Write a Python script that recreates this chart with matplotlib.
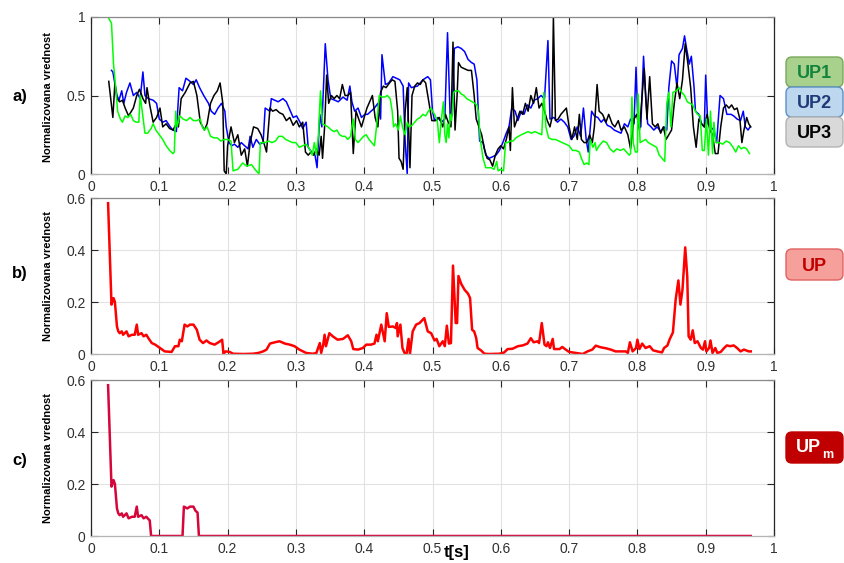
import matplotlib
matplotlib.use("Agg")
import matplotlib.pyplot as plt
from matplotlib.patches import FancyBboxPatch
from matplotlib.transforms import IdentityTransform

plt.rcParams['font.family'] = ['Liberation Sans', 'DejaVu Sans']

# ---- data ----
t_up1 = [.025, .030, .033, .036, .039, .043, .046, .050, .054, .058,
         .062, .066, .070, .072, .075, .079, .083, .088, .091, .095,
         .100, .105, .110, .115, .120, .122, .124, .126, .130, .135,
         .140, .145, .150, .155, .160, .163, .166, .170, .175, .180,
         .185, .190, .195, .200, .205, .208, .215, .222, .228, .235,
         .240, .246, .248, .255, .260, .265, .270, .275, .280, .285,
         .290, .295, .300, .305, .310, .315, .320, .324, .327, .330,
         .333, .336, .339, .343, .347, .352, .356, .360, .364, .368,
         .372, .376, .380, .384, .387, .391, .395, .399, .403, .407,
         .411, .415, .418, .422, .426, .430, .434, .438, .441, .443,
         .446, .450, .453, .456, .460, .463, .466, .470, .474, .478,
         .482, .486, .490, .494, .498, .500, .503, .507, .510, .513,
         .516, .518, .520, .522, .524, .526, .528, .531, .534, .538,
         .542, .546, .550, .554, .558, .562, .565, .567, .570, .574,
         .578, .582, .586, .590, .594, .596, .600, .604, .607, .610,
         .614, .618, .622, .626, .630, .635, .640, .645, .650, .655,
         .660, .663, .666, .670, .675, .680, .685, .690, .695, .700,
         .705, .710, .715, .718, .722, .726, .729, .731, .735, .738,
         .740, .744, .750, .755, .760, .765, .770, .775, .780, .784,
         .788, .790, .792, .794, .797, .800, .801, .804, .808, .812,
         .816, .820, .824, .828, .832, .836, .840, .843, .846, .849,
         .852, .857, .861, .865, .869, .873, .877, .881, .885, .888,
         .892, .895, .898, .901, .904, .907, .910, .912, .915, .920,
         .925, .930, .935, .940, .944, .948, .952, .956, .960, .964]
up1 = [1.00, 0.96, 0.70, 0.56, 0.40, 0.35, 0.33, 0.37, 0.36, 0.38,
       0.34, 0.33, 0.33, 0.50, 0.40, 0.26, 0.26, 0.29, 0.32, 0.28,
       0.25, 0.22, 0.18, 0.15, 0.13, 0.14, 0.40, 0.30, 0.37, 0.35,
       0.34, 0.36, 0.34, 0.34, 0.35, 0.30, 0.28, 0.30, 0.24, 0.23,
       0.23, 0.21, 0.22, 0.22, 0.21, 0.02, 0.03, 0.07, 0.05, 0.06,
       0.03, 0.00, 0.20, 0.20, 0.21, 0.20, 0.21, 0.24, 0.24, 0.22,
       0.21, 0.20, 0.20, 0.17, 0.18, 0.19, 0.16, 0.12, 0.20, 0.12,
       0.25, 0.53, 0.32, 0.31, 0.30, 0.28, 0.27, 0.28, 0.25, 0.24,
       0.24, 0.22, 0.24, 0.35, 0.22, 0.20, 0.22, 0.24, 0.25, 0.22,
       0.20, 0.18, 0.30, 0.50, 0.49, 0.49, 0.50, 0.48, 0.40, 0.30,
       0.32, 0.28, 0.37, 0.30, 0.25, 0.33, 0.30, 0.31, 0.33, 0.35,
       0.36, 0.38, 0.37, 0.40, 0.42, 0.40, 0.38, 0.34, 0.20, 0.35,
       0.46, 0.25, 0.20, 0.32, 0.23, 0.38, 0.34, 0.52, 0.53, 0.53,
       0.51, 0.50, 0.48, 0.47, 0.46, 0.45, 0.44, 0.40, 0.22, 0.10,
       0.04, 0.04, 0.04, 0.03, 0.08, 0.02, 0.03, 0.02, 0.20, 0.20,
       0.21, 0.21, 0.23, 0.24, 0.25, 0.26, 0.27, 0.26, 0.27, 0.26,
       0.25, 0.52, 0.30, 0.23, 0.22, 0.22, 0.21, 0.20, 0.19, 0.18,
       0.15, 0.15, 0.14, 0.10, 0.06, 0.07, 0.06, 0.22, 0.17, 0.20,
       0.15, 0.18, 0.21, 0.20, 0.16, 0.14, 0.16, 0.15, 0.16, 0.14,
       0.12, 0.13, 0.49, 0.20, 0.14, 0.14, 0.51, 0.20, 0.21, 0.22,
       0.20, 0.19, 0.18, 0.17, 0.12, 0.10, 0.08, 0.45, 0.52, 0.30,
       0.52, 0.53, 0.55, 0.52, 0.50, 0.46, 0.45, 0.44, 0.40, 0.38,
       0.37, 0.15, 0.15, 0.35, 0.12, 0.40, 0.13, 0.33, 0.20, 0.20,
       0.19, 0.21, 0.20, 0.17, 0.14, 0.18, 0.16, 0.17, 0.16, 0.13]

t_up2 = [.030, .032, .038, .041, .045, .048, .052, .057, .062, .067,
         .072, .076, .079, .084, .091, .096, .100, .105, .110, .116,
         .120, .125, .129, .134, .139, .145, .150, .154, .159, .165,
         .172, .176, .181, .186, .191, .196, .198, .202, .206, .210,
         .215, .220, .225, .230, .233, .237, .242, .247, .252, .255,
         .262, .264, .269, .274, .281, .286, .291, .296, .301, .306,
         .310, .315, .318, .323, .328, .331, .335, .338, .343, .347,
         .351, .357, .362, .369, .375, .379, .382, .386, .391, .396,
         .401, .405, .410, .415, .420, .424, .426, .431, .436, .442,
         .447, .452, .457, .460, .463, .465, .469, .478, .486, .493,
         .497, .500, .503, .508, .513, .518, .522, .526, .529, .532,
         .537, .542, .547, .552, .557, .561, .565, .569, .574, .578,
         .583, .588, .593, .598, .603, .608, .612, .616, .621, .625,
         .630, .634, .639, .644, .649, .654, .659, .664, .669, .672,
         .678, .683, .688, .693, .698, .703, .707, .712, .717, .721,
         .725, .728, .733, .737, .742, .747, .751, .756, .761, .766,
         .771, .776, .781, .786, .790, .795, .798, .801, .805, .809,
         .812, .815, .820, .824, .829, .834, .839, .843, .846, .850,
         .854, .858, .861, .866, .869, .872, .876, .879, .883, .885,
         .890, .894, .898, .900, .903, .907, .912, .916, .921, .926,
         .931, .937, .941, .946, .951, .955, .958, .962, .965]
up2 = [0.66, 0.65, 0.50, 0.47, 0.53, 0.45, 0.52, 0.58, 0.50, 0.52,
       0.48, 0.65, 0.50, 0.48, 0.47, 0.45, 0.35, 0.33, 0.34, 0.30,
       0.28, 0.27, 0.55, 0.53, 0.61, 0.59, 0.57, 0.60, 0.55, 0.50,
       0.45, 0.40, 0.38, 0.42, 0.45, 0.40, 0.30, 0.20, 0.18, 0.19,
       0.17, 0.20, 0.18, 0.16, 0.24, 0.17, 0.22, 0.19, 0.20, 0.42,
       0.40, 0.48, 0.47, 0.46, 0.48, 0.46, 0.41, 0.36, 0.37, 0.33,
       0.29, 0.33, 0.17, 0.14, 0.12, 0.04, 0.38, 0.30, 0.83, 0.60,
       0.48, 0.47, 0.46, 0.49, 0.47, 0.56, 0.46, 0.40, 0.42, 0.36,
       0.38, 0.38, 0.40, 0.42, 0.45, 0.35, 0.76, 0.57, 0.58, 0.62,
       0.61, 0.60, 0.56, 0.20, 0.00, 0.58, 0.55, 0.56, 0.60, 0.62,
       0.60, 0.40, 0.34, 0.36, 0.33, 0.35, 0.90, 0.34, 0.38, 0.80,
       0.81, 0.80, 0.78, 0.73, 0.71, 0.70, 0.60, 0.21, 0.20, 0.12,
       0.10, 0.11, 0.12, 0.15, 0.20, 0.26, 0.30, 0.42, 0.40, 0.34,
       0.40, 0.38, 0.44, 0.42, 0.47, 0.48, 0.50, 0.48, 0.85, 0.35,
       0.36, 0.33, 0.35, 0.33, 0.30, 0.22, 0.24, 0.30, 0.24, 0.42,
       0.22, 0.14, 0.40, 0.37, 0.36, 0.33, 0.35, 0.31, 0.30, 0.28,
       0.27, 0.26, 0.32, 0.30, 0.35, 0.32, 0.68, 0.30, 0.30, 0.75,
       0.50, 0.32, 0.30, 0.28, 0.30, 0.27, 0.30, 0.28, 0.55, 0.72,
       0.70, 0.55, 0.76, 0.80, 0.88, 0.80, 0.70, 0.75, 0.55, 0.40,
       0.38, 0.32, 0.30, 0.63, 0.32, 0.30, 0.28, 0.20, 0.50, 0.48,
       0.38, 0.38, 0.37, 0.35, 0.34, 0.40, 0.30, 0.28, 0.30]

t_up3 = [.026, .032, .035, .038, .042, .046, .050, .055, .062, .067,
         .071, .076, .080, .082, .086, .091, .096, .101, .105, .110,
         .115, .120, .125, .128, .132, .138, .145, .150, .155, .160,
         .166, .170, .175, .180, .185, .189, .193, .195, .198, .200,
         .205, .210, .215, .220, .225, .229, .233, .238, .244, .249,
         .253, .257, .262, .266, .271, .276, .281, .286, .291, .296,
         .301, .305, .310, .314, .318, .322, .326, .330, .334, .337,
         .339, .342, .345, .348, .352, .356, .360, .364, .368, .372,
         .376, .380, .384, .388, .392, .396, .400, .404, .408, .412,
         .416, .420, .424, .428, .432, .437, .441, .445, .449, .451,
         .454, .457, .460, .463, .467, .470, .474, .478, .482, .486,
         .490, .495, .499, .505, .510, .515, .519, .523, .527, .530,
         .533, .536, .538, .542, .547, .552, .557, .561, .564, .568,
         .572, .576, .580, .584, .588, .592, .596, .600, .604, .608,
         .612, .614, .617, .620, .624, .628, .632, .636, .640, .644,
         .648, .652, .656, .660, .664, .668, .672, .675, .677, .680,
         .684, .688, .692, .696, .700, .704, .708, .712, .715, .718,
         .722, .726, .730, .734, .737, .741, .744, .749, .754, .758,
         .763, .767, .772, .776, .781, .786, .790, .795, .799, .803,
         .807, .810, .814, .818, .822, .826, .830, .834, .838, .842,
         .846, .850, .854, .858, .862, .866, .870, .874, .878, .882,
         .886, .890, .894, .898, .902, .906, .910, .914, .918, .922,
         .926, .930, .934, .938, .942, .946, .950, .953, .956, .960,
         .963, .966]
up3 = [0.59, 0.36, 0.58, 0.48, 0.46, 0.47, 0.42, 0.37, 0.42, 0.50,
       0.54, 0.48, 0.45, 0.55, 0.44, 0.33, 0.36, 0.42, 0.30, 0.32,
       0.29, 0.28, 0.32, 0.30, 0.48, 0.52, 0.58, 0.59, 0.50, 0.33,
       0.28, 0.32, 0.45, 0.50, 0.53, 0.58, 0.45, 0.02, 0.00, 0.18,
       0.30, 0.20, 0.25, 0.12, 0.16, 0.05, 0.20, 0.30, 0.29, 0.25,
       0.20, 0.14, 0.42, 0.40, 0.41, 0.39, 0.38, 0.34, 0.36, 0.31,
       0.34, 0.30, 0.33, 0.14, 0.12, 0.14, 0.12, 0.16, 0.12, 0.24,
       0.10, 0.30, 0.63, 0.45, 0.50, 0.48, 0.50, 0.48, 0.57, 0.50,
       0.50, 0.52, 0.13, 0.40, 0.35, 0.30, 0.36, 0.42, 0.46, 0.50,
       0.36, 0.30, 0.52, 0.56, 0.55, 0.58, 0.60, 0.59, 0.40, 0.10,
       0.08, 0.03, 0.40, 0.55, 0.04, 0.50, 0.56, 0.58, 0.57, 0.60,
       0.58, 0.45, 0.34, 0.34, 0.36, 0.30, 0.38, 0.33, 0.30, 0.84,
       0.28, 0.50, 0.71, 0.68, 0.67, 0.66, 0.66, 0.50, 0.35, 0.30,
       0.25, 0.16, 0.10, 0.09, 0.05, 0.12, 0.16, 0.18, 0.16, 0.22,
       0.30, 0.15, 0.55, 0.30, 0.35, 0.40, 0.38, 0.45, 0.40, 0.50,
       0.45, 0.55, 0.42, 0.45, 0.40, 0.34, 0.30, 0.36, 1.00, 0.34,
       0.35, 0.38, 0.40, 0.42, 0.30, 0.22, 0.30, 0.22, 0.38, 0.22,
       0.20, 0.20, 0.25, 0.20, 0.30, 0.57, 0.40, 0.38, 0.33, 0.38,
       0.32, 0.30, 0.34, 0.28, 0.30, 0.25, 0.16, 0.35, 0.38, 0.28,
       0.50, 0.67, 0.35, 0.62, 0.32, 0.30, 0.32, 0.26, 0.30, 0.22,
       0.25, 0.28, 0.45, 0.58, 0.48, 0.60, 0.83, 0.70, 0.55, 0.30,
       0.17, 0.35, 0.32, 0.30, 0.38, 0.28, 0.25, 0.13, 0.13, 0.30,
       0.42, 0.44, 0.42, 0.44, 0.41, 0.42, 0.35, 0.20, 0.28, 0.36,
       0.32, 0.30]

t_up = [.025, .030, .033, .035, .038, .040, .042, .045, .047, .052,
        .055, .060, .064, .067, .069, .074, .077, .081, .084, .089,
        .094, .101, .108, .118, .123, .128, .130, .133, .137, .141,
        .145, .150, .155, .159, .164, .169, .174, .181, .189, .192,
        .194, .197, .203, .208, .223, .237, .245, .252, .257, .262,
        .269, .276, .284, .291, .298, .305, .315, .325, .330, .335,
        .337, .340, .342, .344, .349, .354, .361, .369, .376, .381,
        .384, .391, .398, .403, .410, .415, .418, .420, .425, .430,
        .433, .436, .442, .446, .448, .449, .453, .456, .459, .462,
        .465, .467, .471, .476, .481, .488, .493, .498, .503, .506,
        .510, .515, .518, .521, .524, .527, .530, .534, .536, .538,
        .542, .547, .552, .555, .558, .561, .564, .566, .571, .576,
        .583, .598, .605, .610, .617, .625, .632, .639, .644, .648,
        .654, .656, .660, .664, .667, .669, .672, .676, .678, .686,
        .690, .695, .700, .710, .720, .727, .734, .739, .746, .754,
        .761, .768, .776, .783, .786, .789, .793, .798, .800, .803,
        .807, .812, .818, .823, .829, .836, .839, .844, .847, .852,
        .856, .860, .863, .866, .870, .873, .875, .878, .881, .884,
        .888, .893, .896, .899, .901, .905, .907, .910, .914, .917,
        .922, .927, .931, .936, .941, .946, .951, .956, .963, .966]
up = [0.580, 0.190, 0.215, 0.200, 0.106, 0.087, 0.080, 0.087, 0.074, 0.087,
      0.068, 0.074, 0.074, 0.113, 0.074, 0.080, 0.068, 0.074, 0.061, 0.042,
      0.036, 0.023, 0.010, 0.008, 0.030, 0.030, 0.055, 0.049, 0.113, 0.106,
      0.113, 0.113, 0.093, 0.055, 0.042, 0.052, 0.042, 0.036, 0.049, 0.055,
      0.000, 0.010, 0.008, 0.001, 0.000, 0.001, 0.004, 0.010, 0.017, 0.040,
      0.045, 0.049, 0.040, 0.036, 0.030, 0.017, 0.004, 0.001, 0.004, 0.042,
      0.004, 0.036, 0.074, 0.030, 0.080, 0.068, 0.055, 0.058, 0.072, 0.049,
      0.019, 0.017, 0.023, 0.036, 0.036, 0.040, 0.074, 0.049, 0.113, 0.049,
      0.157, 0.104, 0.106, 0.100, 0.119, 0.068, 0.113, 0.023, 0.004, 0.000,
      0.058, 0.000, 0.087, 0.113, 0.119, 0.138, 0.087, 0.080, 0.052, 0.058,
      0.030, 0.049, 0.030, 0.109, 0.040, 0.042, 0.340, 0.119, 0.119, 0.300,
      0.270, 0.247, 0.232, 0.215, 0.093, 0.087, 0.061, 0.023, 0.014, 0.001,
      0.000, 0.001, 0.006, 0.019, 0.020, 0.030, 0.033, 0.040, 0.061, 0.045,
      0.049, 0.042, 0.119, 0.036, 0.030, 0.045, 0.023, 0.058, 0.019, 0.019,
      0.027, 0.017, 0.008, 0.004, 0.000, 0.010, 0.017, 0.032, 0.026, 0.022,
      0.017, 0.010, 0.010, 0.010, 0.004, 0.045, 0.010, 0.023, 0.055, 0.019,
      0.040, 0.023, 0.030, 0.014, 0.010, 0.006, 0.023, 0.033, 0.055, 0.083,
      0.209, 0.283, 0.190, 0.247, 0.410, 0.298, 0.068, 0.055, 0.091, 0.042,
      0.049, 0.023, 0.017, 0.049, 0.010, 0.023, 0.052, 0.004, 0.023, 0.004,
      0.008, 0.023, 0.033, 0.030, 0.033, 0.023, 0.010, 0.017, 0.010, 0.010]

t_upm = [.025, .030, .033, .035, .038, .040, .042, .045, .047, .052,
         .055, .060, .064, .067, .069, .074, .077, .081, .084, .086,
         .088, .134, .136, .141, .145, .150, .153, .156, .158, .966]
upm = [0.580, 0.190, 0.215, 0.200, 0.106, 0.087, 0.080, 0.087, 0.074, 0.087,
       0.068, 0.074, 0.074, 0.113, 0.074, 0.080, 0.068, 0.074, 0.065, 0.060,
       0.000, 0.000, 0.113, 0.106, 0.113, 0.113, 0.097, 0.090, 0.000, 0.000]

xticks = [0, 0.1, 0.2, 0.3, 0.4, 0.5, 0.6, 0.7, 0.8, 0.9, 1]
xticklabels = ['0', '0.1', '0.2', '0.3', '0.4', '0.5', '0.6', '0.7', '0.8', '0.9', '1']

W, H = 844, 563
fig = plt.figure(figsize=(W / 100, H / 100), dpi=100)


def px_axes(top, bottom, left=91, right=774):
    return fig.add_axes([left / W, 1 - bottom / H, (right - left) / W, (bottom - top) / H])


def style(ax, ymax, yticks, ylabels):
    ax.set_xlim(0, 1)
    ax.set_ylim(0, ymax)
    ax.set_xticks(xticks)
    ax.set_xticklabels(xticklabels)
    ax.set_yticks(yticks)
    ax.set_yticklabels(ylabels)
    ax.grid(True, color='#e2e2e2', lw=0.8)
    ax.set_axisbelow(True)
    ax.tick_params(direction='in', top=True, right=True, length=5, width=0.8,
                   labelsize=10, labelcolor='#303030', color='#262626', pad=4)
    ax.spines['left'].set_color('#262626')
    ax.spines['right'].set_color('#262626')
    ax.spines['top'].set_color('#8a8a8a')
    ax.spines['bottom'].set_color('#b5b5b5')
    for s in ax.spines.values():
        s.set_linewidth(0.9)


ax1 = px_axes(17, 174)
ax1.plot(t_up2, up2, color='#0000ff', lw=1.1)
ax1.plot(t_up3, up3, color='#000000', lw=1.1)
ax1.plot(t_up1, up1, color='#00ff00', lw=1.1)
style(ax1, 1, [0, 0.5, 1], ['0', '0.5', '1'])

ax2 = px_axes(198, 354)
ax2.plot(t_up, up, color='#ff0000', lw=1.8)
style(ax2, 0.6, [0, 0.2, 0.4, 0.6], ['0', '0.2', '0.4', '0.6'])

ax3 = px_axes(380, 536)
ax3.plot(t_upm, upm, color='#d6063b', lw=1.8)
style(ax3, 0.6, [0, 0.2, 0.4, 0.6], ['0', '0.2', '0.4', '0.6'])

# panel letters and y labels
for yc, letter in [(96, 'a)'), (273, 'b)'), (460, 'c)')]:
    fig.text(20 / W, 1 - yc / H, letter, fontsize=12, fontweight='bold',
             ha='center', va='center')
for yc in [97, 276, 458]:
    fig.text(48 / W, 1 - yc / H, 'Normalizovana vrednost', rotation=90,
             fontsize=8, fontweight='bold', ha='center', va='center')

fig.text(457 / W, 1 - 553 / H, 't[s]', fontsize=12, fontweight='bold',
         ha='center', va='center')

# legend-like tags on the right (pixel coordinates, top origin)
tags = [
    (57, 87, 'UP1', '#a9d18e', '#7aa85a', '#13843c'),
    (87, 117, 'UP2', '#bdd7ee', '#5b8fc7', '#1f3a78'),
    (117, 147, 'UP3', '#d9d9d9', '#b3b3b3', '#000000'),
    (249, 280, 'UP', '#f6a09c', '#e06262', '#c00000'),
    (432, 463, '', '#c00000', '#c00000', '#ffffff'),
]
for top, bot, label, fc, ec, tc in tags:
    box = FancyBboxPatch((786, H - bot), 57, bot - top,
                         boxstyle='round,pad=0,rounding_size=6',
                         transform=IdentityTransform(), facecolor=fc,
                         edgecolor=ec, lw=1.0)
    fig.patches.append(box)
    if label:
        fig.text(814.5 / W, 1 - ((top + bot) / 2 + 2) / H, label, fontsize=13,
                 fontweight='bold', color=tc, ha='center', va='center')

fig.text(808 / W, 1 - 447 / H, 'UP', fontsize=13, fontweight='bold',
         color='#ffffff', ha='center', va='center')
fig.text(828 / W, 1 - 455 / H, 'm', fontsize=9, fontweight='bold',
         color='#ffffff', ha='center', va='center')

fig.savefig('out.png', dpi=100)
